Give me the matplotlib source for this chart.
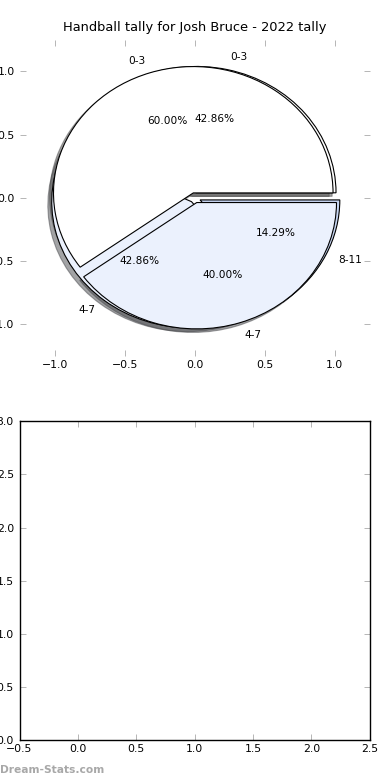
import matplotlib
matplotlib.use("Agg")
import matplotlib.pyplot as plt

plt.rcParams['font.family'] = ['DejaVu Sans']
plt.rcParams['font.size'] = 7.6

TITLE = "Handball tally for Josh Bruce - 2022 tally"

# pie drawn first (underneath)
labels_b = ["0-3", "4-7", "8-11"]
values_b = [3, 3, 1]
colors_b = ["white", "#ebf1fd", "#c6d5f2"]

# pie drawn on top
labels_a = ["0-3", "4-7"]
values_a = [3, 2]
colors_a = ["white", "#ebf1fd"]

EXPLODE = 0.04

fig = plt.figure(figsize=(3.9, 7.8), dpi=100)
ax = fig.add_axes([0.052, 0.544, 0.896, 0.405])
ax2 = fig.add_axes([0.05, 0.051, 0.898, 0.409])

wedge_style = dict(edgecolor="black", linewidth=0.8)

ax.pie(values_b, labels=labels_b, colors=colors_b, autopct="%.2f%%",
       explode=[EXPLODE] * len(values_b), shadow=True, wedgeprops=wedge_style)
ax.pie(values_a, labels=labels_a, colors=colors_a, autopct="%.2f%%",
       explode=[EXPLODE] * len(values_a), shadow=True, wedgeprops=wedge_style)

ax.set_aspect("auto")
ax.set_xlim(-1.25, 1.25)
ax.set_ylim(-1.25, 1.25)
ax.set_xticks([-1.0, -0.5, 0.0, 0.5, 1.0])
ax.set_yticks([-1.0, -0.5, 0.0, 0.5, 1.0])
ax.set_title(TITLE, fontsize=9.4)

# empty lower panel
ax2.set_xlim(-0.5, 2.5)
ax2.set_ylim(0, 3.0)
ax2.set_xticks([-0.5, 0.0, 0.5, 1.0, 1.5, 2.0, 2.5])
ax2.set_yticks([0.0, 0.5, 1.0, 1.5, 2.0, 2.5, 3.0])

for a in (ax, ax2):
    a.tick_params(direction="in", length=4, width=0.5, color="#999999",
                  top=True, right=True, labelsize=7.8)
    a.tick_params(axis="x", pad=3)
    a.tick_params(axis="y", pad=4)

for sp in ax2.spines.values():
    sp.set_linewidth(1.0)

fig.text(0.001, 0.009, "Dream-Stats.com", color="#a8a8a8", fontsize=7.7,
         fontweight="bold", ha="left", va="baseline")

fig.savefig("out.png", dpi=100)
